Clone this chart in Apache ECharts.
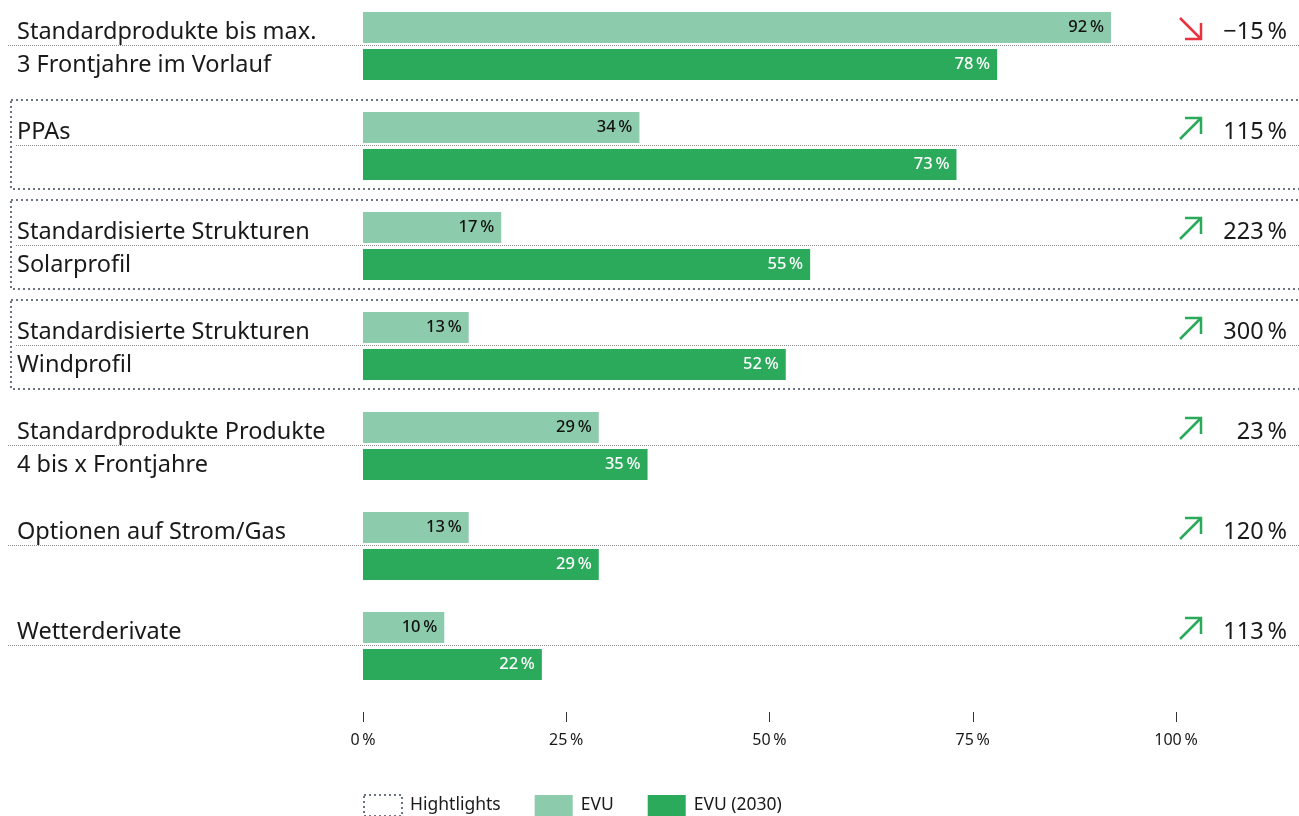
<!DOCTYPE html>
<html>
<head>
<meta charset="utf-8">
<script src="https://cdn.jsdelivr.net/npm/echarts@6/dist/echarts.min.js"></script>
<style>
  html, body { margin: 0; padding: 0; background: #fff; overflow: hidden; }
  #chart { position: absolute; left: 0; top: -4px; width: 1299px; height: 820px; }
</style>
</head>
<body>
<div id="chart"></div>
<script>
// Row labels (first line next to the EVU bar, second line next to the 2030 bar)
const labelLines = [
  ['Standardprodukte bis max.', '3 Frontjahre im Vorlauf'],
  ['PPAs', ''],
  ['Standardisierte Strukturen', 'Solarprofil'],
  ['Standardisierte Strukturen', 'Windprofil'],
  ['Standardprodukte Produkte', '4 bis x Frontjahre'],
  ['Optionen auf Strom/Gas', ''],
  ['Wetterderivate', '']
];
// Share of utilities (%) today and expected for 2030
const evu = [92, 34, 17, 13, 29, 13, 10];
const evu2030 = [78, 73, 55, 52, 35, 29, 22];
// Relative change 2030 vs. today (%)
const changePct = [-15, 115, 223, 300, 23, 120, 113];
// Rows framed as highlights
const highlighted = [1, 2, 3];
// Value axis ticks
const xTicks = [0, 25, 50, 75, 100];

const FONT = 'Noto Sans';
const TEXT = '#1a1a1a';
const C_EVU = '#8ccbab';
const C_2030 = '#2aaa5a';
const C_UP = '#2aaa5a';
const C_DOWN = '#e8333f';
const C_FRAME = '#6b7480';

const categories = labelLines.map(l => l[0] + '\n' + (l[1] || '\u00a0'));
const pct = v => v + '\u2009%';

// two text lines per row, nudged slightly down by a thin leading strip
const rowRich = {
  s: { fontSize: 1, lineHeight: 5 },
  t: { fontSize: 23.5, lineHeight: 33, color: TEXT, fontFamily: FONT }
};
const twoLines = (a, b) => '{s|\u00a0}\n{t|' + a + '}\n{t|' + (b || '\u00a0') + '}';

const chart = echarts.init(document.getElementById('chart'), null, { renderer: 'canvas' });

chart.setOption({
  animation: false,
  textStyle: { fontFamily: FONT, color: TEXT },
  grid: { left: 363, right: 123, top: 0, height: 700, containLabel: false },
  xAxis: {
    type: 'value',
    min: xTicks[0],
    max: xTicks[xTicks.length - 1],
    interval: xTicks[1] - xTicks[0],
    position: 'bottom',
    offset: 16,
    axisLine: { show: false },
    splitLine: { show: false },
    axisTick: { show: true, length: 10, lineStyle: { color: '#333', width: 1 } },
    axisLabel: { margin: 20, fontSize: 16, color: TEXT, fontFamily: FONT, formatter: v => pct(v) }
  },
  yAxis: [
    {
      type: 'category',
      data: categories,
      inverse: true,
      axisLine: { show: false },
      axisTick: { show: false },
      axisLabel: {
        align: 'left',
        margin: 346,
        formatter: (value, index) => twoLines(labelLines[index][0], labelLines[index][1]),
        rich: rowRich
      }
    },
    {
      type: 'category',
      data: categories,
      inverse: true,
      position: 'right',
      axisLine: { show: false },
      axisTick: { show: false },
      axisLabel: {
        align: 'right',
        margin: 111,
        formatter: (value, index) => {
          const v = changePct[index];
          return twoLines((v < 0 ? '\u2212' : '') + Math.abs(v) + '\u2009%', '');
        },
        rich: rowRich
      }
    }
  ],
  legend: {
    left: 363,
    top: 798,
    padding: 0,
    itemWidth: 38,
    itemHeight: 21,
    itemGap: 34,
    selectedMode: false,
    textStyle: { fontSize: 17.5, color: TEXT, fontFamily: FONT, padding: [0, 0, 0, 3] },
    data: [
      { name: 'Hightlights', icon: 'rect',
        itemStyle: { color: 'rgba(0,0,0,0)', borderColor: C_FRAME, borderWidth: 2, borderType: [2, 3] } },
      { name: 'EVU', icon: 'rect' },
      { name: 'EVU (2030)', icon: 'rect' }
    ]
  },
  series: [
    { name: 'Hightlights', type: 'line', data: [], itemStyle: { color: C_FRAME } },
    {
      name: 'EVU',
      type: 'bar',
      data: evu,
      barWidth: 31,
      barGap: '19%',
      itemStyle: { color: C_EVU },
      label: {
        show: true, position: 'insideRight', distance: 7,
        fontSize: 16.5, fontWeight: 500, color: '#111', fontFamily: FONT,
        formatter: p => pct(p.value)
      }
    },
    {
      name: 'EVU (2030)',
      type: 'bar',
      data: evu2030,
      barWidth: 31,
      barGap: '19%',
      itemStyle: { color: C_2030 },
      label: {
        show: true, position: 'insideRight', distance: 7,
        fontSize: 16.5, fontWeight: 500, color: '#fff', fontFamily: FONT,
        formatter: p => pct(p.value)
      }
    }
  ]
});

// Row separators, highlight frames and trend arrows, placed from the category scale
function drawGuides() {
  const y0 = chart.convertToPixel({ yAxisIndex: 0 }, categories[0]);
  const y1 = chart.convertToPixel({ yAxisIndex: 0 }, categories[1]);
  const band = Math.abs(y1 - y0);
  const g = [];
  categories.forEach((c, i) => {
    const yc = chart.convertToPixel({ yAxisIndex: 0 }, c);
    const hl = highlighted.includes(i);
    const y = Math.round(yc) - 0.5;
    g.push({
      type: 'line', silent: true, z: -1,
      shape: { x1: hl ? 16 : 8, y1: y, x2: 1299, y2: y },
      style: { stroke: '#8a8a8a', lineWidth: 1, lineDash: [1, 1] }
    });
    if (hl) {
      const top = Math.round(yc - 0.46 * band);
      const bottom = Math.round(yc + 0.43 * band);
      g.push({
        type: 'rect', silent: true, z: -1,
        shape: { x: 11, y: top, width: 1320, height: bottom - top },
        style: { fill: 'none', stroke: C_FRAME, lineWidth: 2, lineDash: [2, 3] }
      });
    }
    // trend arrow beside the change value, centred on the first bar of the row
    const ay = yc - 0.185 * band + 1;
    const up = changePct[i] >= 0;
    const x0 = 1180, x1 = 1201, h = 10.5;
    const arrowStyle = { stroke: up ? C_UP : C_DOWN, lineWidth: 2.5, fill: 'none', lineCap: 'butt', lineJoin: 'miter' };
    if (up) {
      g.push({ type: 'line', silent: true, shape: { x1: x0, y1: ay + h, x2: x1 - 1, y2: ay - h + 1 }, style: arrowStyle });
      g.push({ type: 'polyline', silent: true, shape: { points: [[x1 - 16, ay - h], [x1, ay - h], [x1, ay - h + 16]] }, style: arrowStyle });
    } else {
      g.push({ type: 'line', silent: true, shape: { x1: x0, y1: ay - h, x2: x1 - 1, y2: ay + h - 1 }, style: arrowStyle });
      g.push({ type: 'polyline', silent: true, shape: { points: [[x1 - 16, ay + h], [x1, ay + h], [x1, ay + h - 16]] }, style: arrowStyle });
    }
  });
  chart.setOption({ graphic: g });
}
drawGuides();
</script>
</body>
</html>
